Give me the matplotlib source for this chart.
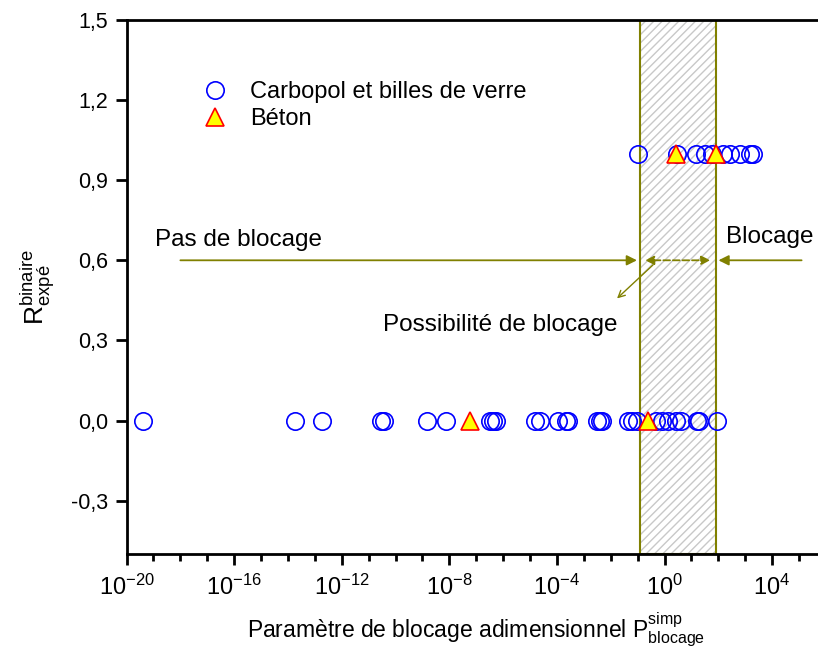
import numpy as np
import matplotlib
matplotlib.use('Agg')
import matplotlib.pyplot as plt
from matplotlib.ticker import FixedLocator, FuncFormatter, NullFormatter

plt.rcParams['font.family'] = ['Liberation Sans', 'DejaVu Sans']
plt.rcParams['mathtext.fontset'] = 'custom'
plt.rcParams['mathtext.rm'] = 'Liberation Sans'
plt.rcParams['mathtext.it'] = 'Liberation Sans'
plt.rcParams['mathtext.default'] = 'regular'

# données (log10 de P, puis R binaire)
carbopol_log_p0 = [-19.39, -13.74, -12.73, -10.54, -10.43, -8.83, -8.12, -6.49, -6.38, -6.26,
                   -4.81, -4.63, -3.96, -3.66, -3.59, -2.51, -2.40, -2.32, -1.36, -1.21,
                   -1.02, -0.32, -0.09, 0.13, 0.43, 0.61, 1.21, 1.28, 1.95]
carbopol_log_p1 = [-0.99, 0.46, 1.17, 1.50, 1.77, 2.18, 2.44, 2.81, 3.18, 3.29]
beton_log_p0 = [-7.23, -0.61]
beton_log_p1 = [0.43, 1.92]

zone_possible = (0.12, 80)   # zone hachurée "possibilité de blocage"
olive = '#808000'

carbopol_x = 10 ** np.array(carbopol_log_p0 + carbopol_log_p1)
carbopol_y = [0] * len(carbopol_log_p0) + [1] * len(carbopol_log_p1)
beton_x = 10 ** np.array(beton_log_p0 + beton_log_p1)
beton_y = [0] * len(beton_log_p0) + [1] * len(beton_log_p1)

fig = plt.figure(figsize=(8.18, 6.53), dpi=100)
ax = fig.add_axes([126.5 / 818, 99 / 653, 699.4 / 818, 534 / 653])

# zone hachurée
ax.axvspan(*zone_possible, facecolor='white', edgecolor='#c8c8c8', hatch='////', lw=0, zorder=0)
ax.axvspan(*zone_possible, fill=False, edgecolor=olive, lw=1.5, zorder=1)

ax.plot(carbopol_x, carbopol_y, 'o', ms=12.5, mfc='none', mec='#0000ff', mew=1.2,
        ls='none', label='Carbopol et billes de verre', zorder=3)
ax.plot(beton_x, beton_y, '^', ms=13, mfc='#ffff00', mec='#ff0000', mew=1.2,
        ls='none', label='Béton', zorder=4)

ax.set_xscale('log')
ax.set_xlim(1e-20, 1e6)
ax.set_ylim(-0.5, 1.5)

ax.xaxis.set_major_locator(FixedLocator([10.0 ** k for k in range(-20, 9, 4)]))
ax.xaxis.set_minor_locator(FixedLocator([10.0 ** k for k in range(-20, 7)]))
ax.xaxis.set_minor_formatter(NullFormatter())
ax.xaxis.set_major_formatter(FuncFormatter(lambda v, p: r'$10^{%d}$' % round(np.log10(v))))
ax.set_yticks([-0.3, 0.0, 0.3, 0.6, 0.9, 1.2, 1.5])
ax.yaxis.set_major_formatter(FuncFormatter(lambda v, p: ('%.1f' % v).replace('.', ',')))

ax.tick_params(which='major', direction='out', length=8, width=2, labelsize=15.5, pad=5)
ax.tick_params(axis='x', which='major', labelsize=17, pad=7)
ax.tick_params(which='minor', direction='out', length=5, width=2)
ax.tick_params(axis='y', which='minor', left=False)
for s in ax.spines.values():
    s.set_linewidth(2)

ax.set_xlabel(r'Paramètre de blocage adimensionnel $\mathrm{P}^{\mathrm{simp}}_{\mathrm{blocage}}$',
              fontsize=16.5, labelpad=8)
ax.set_ylabel(r'$\mathrm{R}^{\mathrm{binaire}}_{\mathrm{expé}}$', fontsize=19, labelpad=10)

# flèches et annotations
arr = dict(arrowstyle='-|>', color=olive, lw=1.3, mutation_scale=15)
ax.annotate('', xy=(zone_possible[0], 0.6), xytext=(10 ** -18.1, 0.6), arrowprops=arr)
ax.annotate('', xy=(zone_possible[1], 0.6), xytext=(10 ** 5.2, 0.6), arrowprops=arr)
ax.annotate('', xy=(zone_possible[0] * 1.25, 0.6), xytext=(zone_possible[1] * 0.8, 0.6),
            arrowprops=dict(arrowstyle='<|-|>', color=olive, lw=1.3, ls='--', mutation_scale=13))
ax.annotate('', xy=(10 ** -1.84, 0.45), xytext=(10 ** -0.35, 0.59),
            arrowprops=dict(arrowstyle='->', color=olive, lw=1.0, mutation_scale=12))
ax.text(10 ** -18.94, 0.676, 'Pas de blocage', fontsize=17.5, ha='left', va='center')
ax.text(10 ** 2.3, 0.687, 'Blocage', fontsize=17.5, ha='left', va='center')
ax.text(10 ** -10.46, 0.358, 'Possibilité de blocage', fontsize=17.5, ha='left', va='center')

ax.legend(loc='upper left', bbox_to_anchor=(0.062, 0.925), frameon=False, fontsize=17,
          handletextpad=0.5, labelspacing=0.2, numpoints=1)

fig.savefig('out.png', dpi=100)
